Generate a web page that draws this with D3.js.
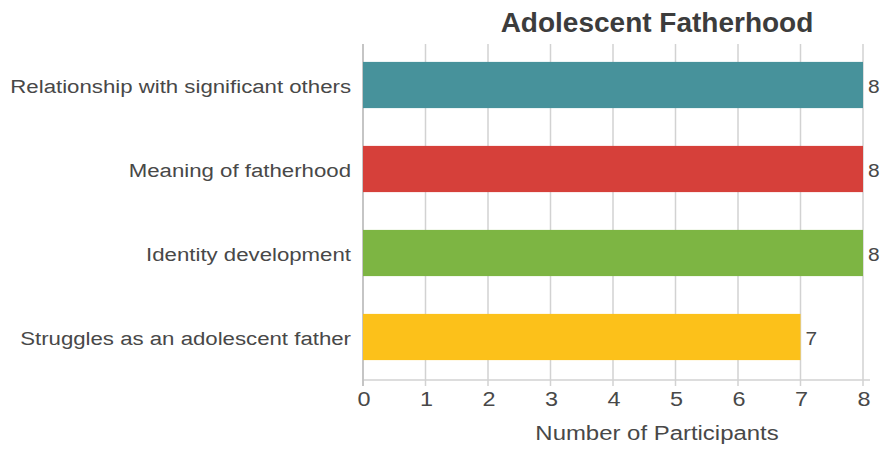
<!DOCTYPE html>
<html>
<head>
<meta charset="utf-8">
<script src="https://cdn.jsdelivr.net/npm/d3@7"></script>
<style>
  html, body { margin: 0; padding: 0; background: #fff; }
  svg { display: block; font-family: "Liberation Sans", Arial, Helvetica, sans-serif; }
</style>
</head>
<body>
<svg id="chart" width="882" height="449"></svg>
<script>
// Themes reported by participants
const categories = [
  "Relationship with significant others",
  "Meaning of fatherhood",
  "Identity development",
  "Struggles as an adolescent father"
];
const participants = [8, 8, 8, 7];
const barColors = ["#47929B", "#D6403A", "#7DB543", "#FCC11A"];
const tickValues = [0, 1, 2, 3, 4, 5, 6, 7, 8];

const svg = d3.select("#chart");
const plotLeft = 363, plotRight = 863, plotTop = 43, plotBottom = 379;
const textColor = "#484848";
const gridColor = "#d2d2d2";

const x = d3.scaleLinear().domain([0, 8]).range([plotLeft, plotRight]);
const y = d3.scaleBand().domain(categories).range([plotTop, plotBottom])
  .paddingInner(0.45).paddingOuter(0.225);

// Text set in a slightly widened face
function wideText(sel, px, py, stretch) {
  return sel.attr("transform", (d, i) =>
    `translate(${px(d, i)},${py(d, i)}) scale(${stretch},1)`);
}

// Vertical grid lines
svg.append("g").selectAll("line").data(tickValues).join("line")
  .attr("x1", d => x(d)).attr("x2", d => x(d))
  .attr("y1", plotTop + 1).attr("y2", plotBottom + 7)
  .attr("stroke", gridColor).attr("stroke-width", 1.5);

// Bottom axis line
svg.append("line")
  .attr("x1", plotLeft).attr("x2", plotRight + 7)
  .attr("y1", plotBottom + 1).attr("y2", plotBottom + 1)
  .attr("stroke", gridColor).attr("stroke-width", 1.5);

// Left axis line
svg.append("line")
  .attr("x1", plotLeft).attr("x2", plotLeft)
  .attr("y1", plotTop + 1).attr("y2", plotBottom + 7)
  .attr("stroke", "#bdbdbd").attr("stroke-width", 1.5);

// Bars
svg.append("g").selectAll("rect").data(participants).join("rect")
  .attr("x", x(0))
  .attr("y", (d, i) => y(categories[i]))
  .attr("width", d => x(d) - x(0))
  .attr("height", y.bandwidth())
  .attr("fill", (d, i) => barColors[i]);

// Value labels
wideText(
  svg.append("g").selectAll("text").data(participants).join("text")
    .attr("font-size", 19).attr("fill", textColor)
    .text(d => d),
  d => x(d) + 5,
  (d, i) => y(categories[i]) + y.bandwidth() / 2 + 8,
  1.1);

// Category labels
wideText(
  svg.append("g").selectAll("text").data(categories).join("text")
    .attr("text-anchor", "end")
    .attr("font-size", 19).attr("fill", textColor)
    .text(d => d),
  () => plotLeft - 12,
  d => y(d) + y.bandwidth() / 2 + 7.5,
  1.17);

// Tick labels
wideText(
  svg.append("g").selectAll("text").data(tickValues).join("text")
    .attr("text-anchor", "middle")
    .attr("font-size", 19.5).attr("fill", textColor)
    .text(d => d),
  d => x(d) + 1,
  () => 406,
  1.2);

// Axis title
wideText(
  svg.append("g").selectAll("text").data(["Number of Participants"]).join("text")
    .attr("text-anchor", "middle")
    .attr("font-size", 21).attr("fill", textColor)
    .text(d => d),
  () => 657,
  () => 440,
  1.14);

// Chart title
svg.append("text")
  .attr("x", 657)
  .attr("y", 32)
  .attr("text-anchor", "middle")
  .attr("font-size", 28).attr("font-weight", "bold").attr("fill", "#3c3c3c")
  .text("Adolescent Fatherhood");
</script>
</body>
</html>
